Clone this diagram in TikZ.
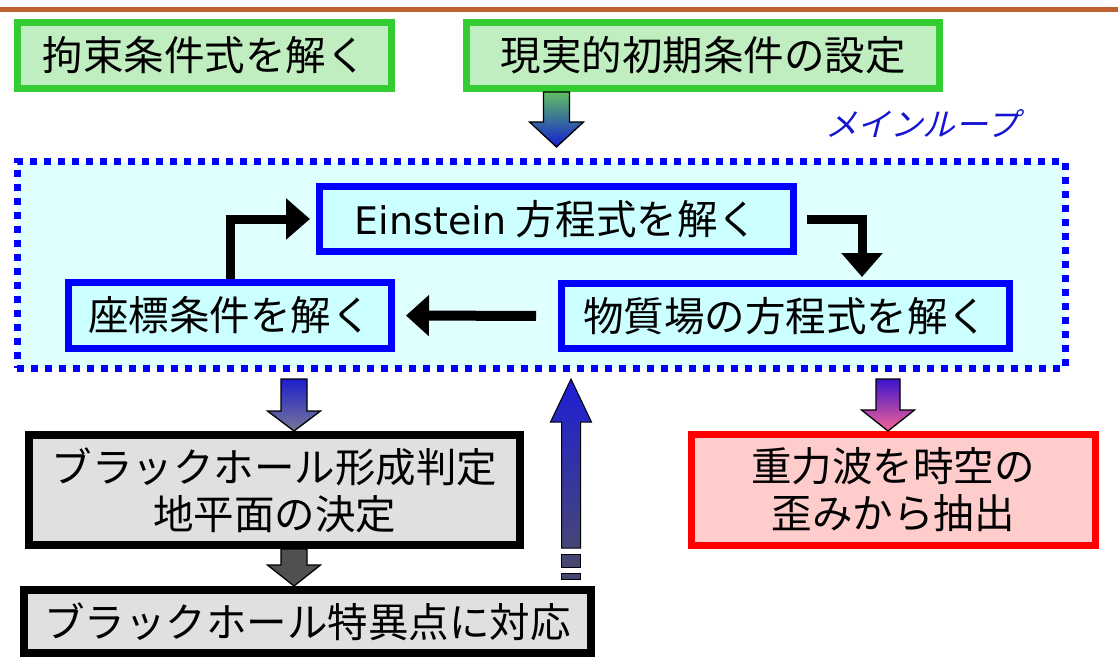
\documentclass[tikz,border=0pt]{standalone}
\usepackage{fontspec}
\newfontfamily\jp{Noto Sans CJK JP}
\newfontfamily\jpit[FakeSlant=0.25]{Noto Sans CJK JP}
\newfontfamily\latinfont{DejaVu Sans}
\usetikzlibrary{arrows.meta,calc}
\definecolor{topline}{RGB}{192,98,47}
\definecolor{gborder}{RGB}{51,204,51}
\definecolor{gfill}{RGB}{192,238,192}
\definecolor{bborder}{RGB}{0,0,255}
\definecolor{bfill}{RGB}{204,255,255}
\definecolor{loopfill}{RGB}{224,255,255}
\definecolor{kfill}{RGB}{224,224,224}
\definecolor{rborder}{RGB}{255,0,0}
\definecolor{rfill}{RGB}{255,204,204}
\definecolor{mltext}{RGB}{20,20,210}
\newcommand\blkdown[6]{%
  \path[#1] let \p1=(#2), \p2=(#3) in
    (\x1-#4,\y1) -- (\x1+#4,\y1) -- (\x1+#4,\y2+#6) -- (\x1+#5,\y2+#6)
    -- (\x1,\y2) -- (\x1-#5,\y2+#6) -- (\x1-#4,\y2+#6) -- cycle;}
\begin{document}
\begin{tikzpicture}[x=1pt,y=-1pt,
  box/.style={draw, line width=7pt, inner sep=0pt, align=center,
    font=\jp\fontsize{40.5pt}{47pt}\selectfont},
  greenbox/.style={box, draw=gborder, fill=gfill},
  bluebox/.style={box, draw=bborder, fill=bfill},
  graybox/.style={box, draw=black, fill=kfill, line width=8pt},
  redbox/.style={box, draw=rborder, fill=rfill},
  loopbox/.style={draw=bborder, fill=loopfill, line width=7pt,
    dash pattern=on 7pt off 7pt, inner sep=0pt},
  loopar/.style={line width=9pt, -{Triangle[length=24pt,width=40pt]}},
  blk/.style={draw=black, line width=1.3pt},
]
\useasboundingbox (0,0) rectangle (1118,663);
\fill[white] (0,0) rectangle (1118,663);
\fill[topline] (0,7) rectangle (1118,12);

% top boxes
\node[greenbox, minimum width=374pt, minimum height=66pt] (c1) at (204.5,55.5) {拘束条件式を解く};
\node[greenbox, minimum width=473pt, minimum height=66pt] (c2) at (703,55.5) {現実的初期条件の設定};

% main loop
\node[loopbox, minimum width=1048pt, minimum height=206pt] (loop) at (541,265) {};
\node[font=\jpit\fontsize{32.5pt}{36pt}\selectfont, text=mltext] (ml) at (922,124) {メインループ};

\node[bluebox, minimum width=474pt, minimum height=65pt] (ein) at (556.5,219)
  {{\latinfont\fontsize{38pt}{44pt}\selectfont Einstein} 方程式を解く};
\node[bluebox, minimum width=323pt, minimum height=66pt] (kz) at (230,315.5) {座標条件を解く};
\node[bluebox, minimum width=448pt, minimum height=65pt] (bs) at (785.5,316) {物質場の方程式を解く};

\draw[loopar] (kz.north) |- ([xshift=-6pt]ein.west);
\draw[loopar] ([xshift=10pt]ein.east) -| ([xshift=76.5pt,yshift=3pt]bs.north);
\draw[line width=10pt, -{Triangle[length=23pt,width=40pt]}, shorten <=22pt, shorten >=11pt] (bs.west) -- (kz.east);

% lower boxes
\node[graybox, minimum width=491pt, minimum height=110pt] (bh1) at (274.5,490) {ブラックホール形成判定\\地平面の決定};
\node[graybox, minimum width=567pt, minimum height=63pt] (bh2) at (307.5,621.5) {ブラックホール特異点に対応};
\node[redbox, minimum width=404pt, minimum height=111pt] (gw) at (893,490) {重力波を時空の\\歪みから抽出};

% block arrows
\coordinate (t1) at (556.5,147);
\blkdown{blk, top color={rgb,255:red,95;green,190;blue,100}, bottom color={rgb,255:red,20;green,30;blue,210}}{c2.south -| t1}{t1}{13pt}{27pt}{25pt}
\coordinate (b1) at (294,379);
\blkdown{blk, top color={rgb,255:red,30;green,30;blue,205}, bottom color={rgb,255:red,120;green,120;blue,150}}{b1}{b1 |- bh1.north}{13pt}{26.5pt}{20pt}
\blkdown{blk, fill={rgb,255:red,80;green,80;blue,80}}{b1 |- bh1.south}{b1 |- bh2.north}{13pt}{26.5pt}{21pt}
\coordinate (d1) at (888,379);
\blkdown{blk, top color={rgb,255:red,60;green,20;blue,205}, bottom color={rgb,255:red,245;green,100;blue,150}}{d1}{d1 |- gw.north}{12pt}{26.5pt}{21pt}

% up arrow with broken tail
\coordinate (e1) at (571,548);
\coordinate (e2) at (571,379);
\path[draw=black, line width=1pt, top color={rgb,255:red,30;green,30;blue,215}, bottom color={rgb,255:red,70;green,70;blue,120}]
  let \p1=(e1), \p2=(e2) in
  (\x1-9.5pt,\y1) -- (\x1+9.5pt,\y1) -- (\x1+9.5pt,\y2-43pt) -- (\x1+20.5pt,\y2-43pt)
  -- (\x2,\y2) -- (\x1-20.5pt,\y2-43pt) -- (\x1-9.5pt,\y2-43pt) -- cycle;
\path[draw=black, line width=1pt, fill={rgb,255:red,70;green,70;blue,115}]
  let \p1=(e1) in (\x1-9.5pt,\y1-6pt) rectangle (\x1+9.5pt,\y1-19pt);
\path[draw=black, line width=1pt, fill={rgb,255:red,70;green,70;blue,115}]
  let \p1=(e1) in (\x1-9.5pt,\y1-25pt) rectangle (\x1+9.5pt,\y1-31pt);
\end{tikzpicture}
\end{document}
